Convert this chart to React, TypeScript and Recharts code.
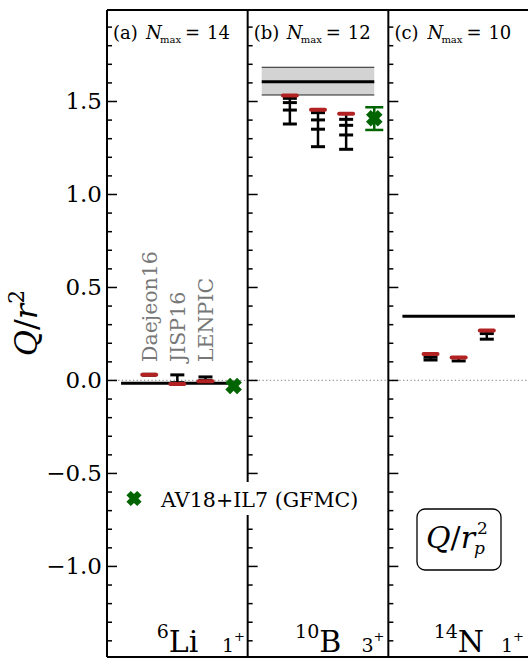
import React from 'react';
import { ComposedChart, Scatter, Line, XAxis, YAxis, ReferenceLine, ReferenceArea, ErrorBar } from 'recharts';

// ---- data ----
const panelLabels = ['(a)', '(b)', '(c)'];
const nmaxValues = ['14', '12', '10'];
const massNumbers = ['6', '10', '14'];
const elements = ['Li', 'B', 'N'];
const spins = ['1', '3', '1'];
const methods = ['Daejeon16', 'JISP16', 'LENPIC'];

const experiment = [-0.015, 1.606, 0.345];
const experimentBandB10 = [1.535, 1.684];

const extrapLi6 = [0.031, -0.019, -0.004];
const extrapB10 = [1.532, 1.456, 1.434];
const extrapN14 = [0.142, 0.123, 0.268];

const seqLi6 = [[0.028, 0.033], [0.030, -0.012], [0.019, 0.0]];
const seqB10 = [[1.517, 1.494, 1.454, 1.379], [1.440, 1.401, 1.351, 1.257], [1.404, 1.372, 1.320, 1.243]];
const seqN14 = [[0.125, 0.110], [0.105], [0.252, 0.222]];

const gfmcValues = [-0.030, 1.410];
const gfmcLow = [null, 1.347];
const gfmcHigh = [null, 1.469];

const majorTicks = [-1.0, -0.5, 0.0, 0.5, 1.0, 1.5];
const allTicks = [-1.4, -1.3, -1.2, -1.1, -1.0, -0.9, -0.8, -0.7, -0.6, -0.5, -0.4, -0.3, -0.2, -0.1, 0.0,
  0.1, 0.2, 0.3, 0.4, 0.5, 0.6, 0.7, 0.8, 0.9, 1.0, 1.1, 1.2, 1.3, 1.4, 1.5, 1.6, 1.7, 1.8, 1.9];

const Y_DOMAIN: [number, number] = [-1.487, 1.992];
const panelOffset = [0, 5, 10];
const methodPos = [1.5, 2.5, 3.5];
const gfmcPos = 4.5;

const RED = '#b22222';
const GREEN = '#006400';
const FONT = '"DejaVu Serif", serif';

// ---- derived tables ----
const extrap = [extrapLi6, extrapB10, extrapN14];
const seqs = [seqLi6, seqB10, seqN14];

const redData = extrap.flatMap((vals, p) => vals.map((v, m) => ({ x: panelOffset[p] + methodPos[m], y: v })));
const capData = seqs.flatMap((s, p) => s.flatMap((vals, m) => vals.map((v) => ({ x: panelOffset[p] + methodPos[m], y: v }))));
const rangeData = seqs.flatMap((s, p) => s.map((vals, m) => {
  const hi = Math.max(...vals, extrap[p][m]);
  const lo = Math.min(...vals);
  return { x: panelOffset[p] + methodPos[m], y: hi, err: [hi - lo, 0] };
}));
const gfmcData = gfmcValues.map((v, p) => ({ x: panelOffset[p] + gfmcPos, y: v }));
const gfmcErrData = gfmcValues
  .map((v, p) => ({ x: panelOffset[p] + gfmcPos, y: v, lo: gfmcLow[p], hi: gfmcHigh[p] }))
  .filter((d) => d.lo !== null && d.hi !== null)
  .map((d) => ({ x: d.x, y: d.y, err: [d.y - (d.lo as number), (d.hi as number) - d.y] }));

const expLineData = experiment.flatMap((v, p) => [
  { x: panelOffset[p] + 0.5, y: v },
  { x: panelOffset[p] + 4.5, y: v },
  { x: panelOffset[p] + 4.75, y: null },
]);
const bandEdgeData = [
  { x: panelOffset[1] + 0.5, y: experimentBandB10[0] },
  { x: panelOffset[1] + 4.5, y: experimentBandB10[0] },
  { x: panelOffset[1] + 4.6, y: null },
  { x: panelOffset[1] + 0.5, y: experimentBandB10[1] },
  { x: panelOffset[1] + 4.5, y: experimentBandB10[1] },
];
const sepTickData = [5, 10].flatMap((x) => allTicks.map((v) => ({ x, y: v, major: majorTicks.includes(v) })));

// ---- shapes ----
const xPath = (cx: number, cy: number, L: number, a: number) => {
  const pts = [[-a, -L], [a, -L], [a, -a], [L, -a], [L, a], [a, a], [a, L], [-a, L], [-a, a], [-L, a], [-L, -a], [-a, -a]];
  const r = pts.map(([x, y]) => [cx + (x - y) / Math.SQRT2, cy + (x + y) / Math.SQRT2]);
  return 'M' + r.map((q) => q[0].toFixed(2) + ',' + q[1].toFixed(2)).join('L') + 'Z';
};

const RedDash = (p: any) => <rect x={p.cx - 9} y={p.cy - 2} width={18} height={4} rx={2} fill={RED} />;
const BlackCap = (p: any) => <line x1={p.cx - 7} x2={p.cx + 7} y1={p.cy} y2={p.cy} stroke="#000" strokeWidth={3} />;
const Invisible = () => <g />;
const GreenX = (p: any) => <path d={xPath(p.cx, p.cy, 8.3, 3.4)} fill={GREEN} />;
const SepTick = (p: any) => {
  const major = p.payload ? p.payload.major : p.major;
  return <line x1={p.cx} x2={p.cx + (major ? 10 : 5)} y1={p.cy} y2={p.cy} stroke="#000" strokeWidth={1.5} />;
};

const fmt = (v: number) => (v < 0 ? '\u2212' : '') + Math.abs(v).toFixed(1);

const LeftTick = (props: any) => {
  const { x, y, payload } = props;
  const v = payload.value;
  const major = majorTicks.includes(v);
  return (
    <g>
      <line x1={x} x2={x + (major ? 10 : 5)} y1={y} y2={y} stroke="#000" strokeWidth={1.5} />
      {major && (
        <text x={x - 5} y={y} dy={8} textAnchor="end" fontSize={23} fontFamily={FONT} fill="#000">
          {fmt(v)}
        </text>
      )}
    </g>
  );
};

const P = 140.7;

export default function App() {
  return (
    <div style={{ position: 'absolute', left: 0, top: 0, width: 528, height: 658, overflow: 'hidden', background: '#fff' }}>
      <ComposedChart width={540} height={670} margin={{ top: 10, right: 11, bottom: 13, left: 0 }}>
        <XAxis type="number" dataKey="x" domain={[0, 15]} hide allowDataOverflow />
        <YAxis
          type="number"
          domain={Y_DOMAIN}
          ticks={allTicks}
          interval={0}
          width={107}
          allowDataOverflow
          tickLine={false}
          tickSize={0}
          tickMargin={0}
          axisLine={{ stroke: '#000', strokeWidth: 2 }}
          tick={LeftTick}
        />
        <ReferenceArea x1={5.5} x2={9.5} y1={experimentBandB10[0]} y2={experimentBandB10[1]} fill="#d3d3d3" fillOpacity={1} stroke="none" ifOverflow="visible" />
        <ReferenceLine y={0} stroke="#9a9a9a" strokeWidth={1.3} strokeDasharray="1.3 2.4" />
        <Line data={bandEdgeData} dataKey="y" stroke="#222" strokeWidth={1} dot={false} isAnimationActive={false} connectNulls={false} />
        <Line data={expLineData} dataKey="y" stroke="#000" strokeWidth={3} dot={false} isAnimationActive={false} connectNulls={false} />
        <Scatter data={rangeData} dataKey="y" shape={Invisible} isAnimationActive={false}>
          <ErrorBar dataKey="err" direction="y" width={0} stroke="#000" strokeWidth={2.5} isAnimationActive={false} />
        </Scatter>
        <Scatter data={capData} dataKey="y" shape={BlackCap} isAnimationActive={false} />
        <Scatter data={redData} dataKey="y" shape={RedDash} isAnimationActive={false} />
        <Scatter data={gfmcErrData} dataKey="y" shape={Invisible} isAnimationActive={false}>
          <ErrorBar dataKey="err" direction="y" width={9} stroke={GREEN} strokeWidth={2.5} isAnimationActive={false} />
        </Scatter>
        <Scatter data={gfmcData} dataKey="y" shape={GreenX} isAnimationActive={false} />
        <Scatter data={sepTickData} dataKey="y" shape={SepTick} isAnimationActive={false} />
        <ReferenceLine x={5} stroke="#000" strokeWidth={2} />
        <ReferenceLine x={10} stroke="#000" strokeWidth={2} />
        <ReferenceLine x={15} stroke="#000" strokeWidth={2} ifOverflow="visible" />
        <ReferenceLine y={Y_DOMAIN[1]} stroke="#000" strokeWidth={2} ifOverflow="visible" />
        <ReferenceLine y={Y_DOMAIN[0]} stroke="#000" strokeWidth={2} ifOverflow="visible" />
      </ComposedChart>

      <svg width={528} height={658} style={{ position: 'absolute', left: 0, top: 0, pointerEvents: 'none' }} fontFamily={FONT}>
        {/* y label */}
        <text transform="translate(37,323) rotate(-90)" textAnchor="middle" fontSize={32} fill="#000">
          <tspan fontStyle="italic">Q</tspan>
          <tspan>/</tspan>
          <tspan fontStyle="italic">r</tspan>
          <tspan fontSize={22} dy={-13}>2</tspan>
        </text>

        {/* panel titles */}
        {panelLabels.map((lab, p) => (
          <g key={lab}>
            <text x={113 + P * p} y={39} fontSize={18} fill="#000">{lab}</text>
            <text x={146 + P * p} y={39} fontSize={18} fontStyle="italic" fill="#000">N</text>
            <text x={160 + P * p} y={43} fontSize={10} fill="#000">max</text>
            <text x={185 + P * p} y={39} fontSize={18} fill="#000">=</text>
            <text x={207 + P * p} y={39} fontSize={18} fill="#000">{nmaxValues[p]}</text>
          </g>
        ))}

        {/* method labels */}
        {methods.map((m, i) => (
          <text key={m} transform={`translate(${157 + 28 * i},362) rotate(-90)`} fontSize={20.5} fill="#777">{m}</text>
        ))}

        {/* legend */}
        <rect x={118} y={482} width={254} height={33} fill="#fff" />
        <path d={xPath(134, 498.5, 7.6, 3.1)} fill={GREEN} />
        <text x={161} y={507} fontSize={20.6} fill="#000">AV18+IL7 (GFMC)</text>

        {/* Q/r_p^2 box */}
        <rect x={417} y={509} width={84} height={61} rx={8} fill="#fff" stroke="#000" strokeWidth={1.3} />
        <text x={426} y={548} fontSize={30} fill="#000">
          <tspan fontStyle="italic">Q</tspan>
          <tspan>/</tspan>
          <tspan fontStyle="italic">r</tspan>
        </text>
        <text x={477} y={534} fontSize={17} fill="#000">2</text>
        <text x={474} y={554} fontSize={17} fontStyle="italic" fill="#000">p</text>

        {/* nucleus labels */}
        {elements.map((el, p) => (
          <g key={el}>
            <text x={177.5 + P * p} y={652} textAnchor="middle" fill="#000">
              <tspan fontSize={19} dy={-14}>{massNumbers[p]}</tspan>
              <tspan fontSize={30} dy={14}>{el}</tspan>
            </text>
            <text x={222 + 139.5 * p} y={652} fill="#000">
              <tspan fontSize={19}>{spins[p]}</tspan>
              <tspan fontSize={13} dy={-11}>+</tspan>
            </text>
          </g>
        ))}
      </svg>
    </div>
  );
}
